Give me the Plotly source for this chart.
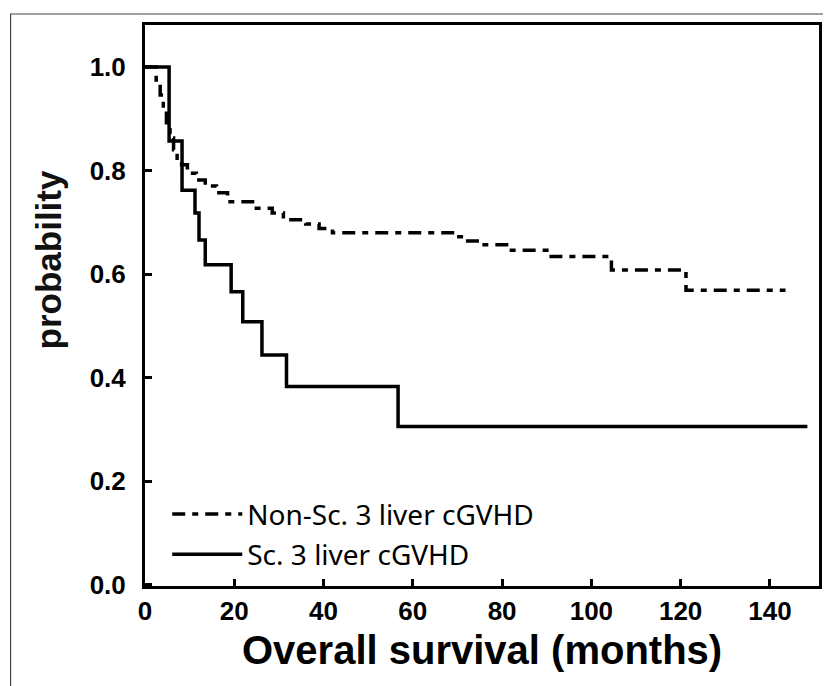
import plotly.graph_objects as go

# Kaplan-Meier style survival data (months, probability)
nonsc_t = [0, 2.5, 3.4, 4.1, 4.8, 5.6, 6.4, 7.2, 8.2, 9.5, 11.5, 13.5, 16.0, 18.5,
           24.5, 28.5, 31.0, 36.0, 39.0, 42.0, 69.5, 71.5, 75.0, 81.5, 91.0,
           104.5, 121.2, 143.5]
nonsc_s = [1.0, 0.975, 0.946, 0.917, 0.888, 0.863, 0.840, 0.824, 0.811, 0.795,
           0.782, 0.770, 0.757, 0.740, 0.727, 0.718, 0.705, 0.697, 0.688, 0.680,
           0.672, 0.664, 0.657, 0.646, 0.634, 0.608, 0.569, 0.569]

sc_t = [0, 5.4, 8.3, 11.2, 12.1, 13.5, 19.3, 21.9, 26.2, 31.7, 56.7, 148.4]
sc_s = [1.0, 0.857, 0.762, 0.718, 0.666, 0.618, 0.566, 0.508, 0.444, 0.383,
        0.306, 0.306]

series_names = ["Non-Sc. 3 liver cGVHD", "Sc. 3 liver cGVHD"]

x_ticks = [0, 20, 40, 60, 80, 100, 120, 140]
y_ticks = [0.0, 0.2, 0.4, 0.6, 0.8, 1.0]
y_tick_labels = ["0.0", "0.2", "0.4", "0.6", "0.8", "1.0"]

x_title = "Overall survival (months)"
y_title = "probability"

fig = go.Figure()
fig.add_trace(go.Scatter(
    x=nonsc_t, y=nonsc_s, mode="lines", line_shape="hv", name=series_names[0],
    legendgroup="a",
    line=dict(color="black", width=3.5, dash="13px,7px,6px,7px"),
))
fig.add_trace(go.Scatter(
    x=sc_t, y=sc_s, mode="lines", line_shape="hv", name=series_names[1],
    legendgroup="b",
    line=dict(color="black", width=3.5),
))

tick_font = dict(family="Liberation Sans Narrow, Liberation Sans, Arial", size=26,
                 color="black", weight="bold")

fig.update_xaxes(
    range=[0, 151], tickvals=x_ticks, ticks="inside", ticklen=7, tickwidth=2.5,
    tickcolor="black", showline=True, linecolor="black", linewidth=3, mirror=True,
    showgrid=False, zeroline=False, tickfont=tick_font, ticklabelstandoff=0,
)
fig.update_yaxes(
    range=[-0.002, 1.081], tickvals=y_ticks, ticktext=y_tick_labels,
    ticks="inside", ticklen=7, tickwidth=2.5,
    tickcolor="black", showline=True, linecolor="black", linewidth=3, mirror=True,
    showgrid=False, zeroline=False, tickfont=tick_font, ticklabelstandoff=11,
)

fig.update_layout(
    width=823, height=678,
    margin=dict(l=137, r=9, t=17, b=100),
    paper_bgcolor="white", plot_bgcolor="white",
    showlegend=True,
    legend=dict(
        x=0.033, y=0.012, xanchor="left", yanchor="bottom",
        bgcolor="rgba(0,0,0,0)", itemwidth=70, tracegroupgap=1,
        traceorder="grouped",
        font=dict(family="Noto Sans, Open Sans", size=28, color="black"),
    ),
    annotations=[
        dict(text=f"<b>{x_title}</b>", xref="paper", yref="paper",
             x=0.5, y=(586 - 650) / 561, xanchor="center", yanchor="middle",
             showarrow=False,
             font=dict(family="Liberation Sans, Arial", size=40, color="black")),
        dict(text=f"<b>{y_title}</b>", xref="paper", yref="paper", textangle=-90,
             x=(48 - 145) / 677, y=(586 - 260) / 561, xanchor="center",
             yanchor="middle", showarrow=False,
             font=dict(family="Liberation Sans, Arial", size=35, color="#111")),
    ],
    shapes=[
        dict(type="rect", xref="paper", yref="paper",
             x0=(10 - 145) / 677, x1=(840 - 145) / 677,
             y0=(586 - 700) / 561, y1=(586 - 14) / 561,
             line=dict(color="#444", width=1.2), fillcolor="rgba(0,0,0,0)",
             layer="below"),
    ],
)

fig.write_html("out.html")
